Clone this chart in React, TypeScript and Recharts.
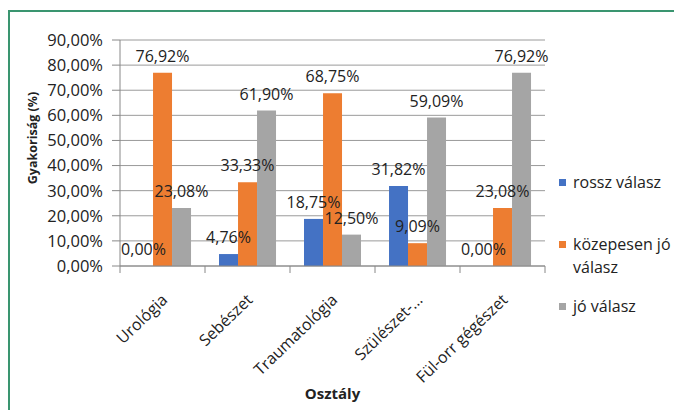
import { BarChart, Bar, XAxis, YAxis, CartesianGrid, Legend, LabelList, Label } from 'recharts';

const categories = ['Urológia', 'Sebészet', 'Traumatológia', 'Szülészet-...', 'Fül-orr gégészet'];
const rossz = [0, 4.76, 18.75, 31.82, 0];
const kozepes = [76.92, 33.33, 68.75, 9.09, 23.08];
const jo = [23.08, 61.9, 12.5, 59.09, 76.92];
const yTicks = [0, 10, 20, 30, 40, 50, 60, 70, 80, 90];

const seriesNames = ['rossz válasz', 'közepesen jó válasz', 'jó válasz'];
const colors = ['#4472c4', '#ed7d31', '#a5a5a5'];

const data = categories.map((name, i) => ({
  name,
  rossz: rossz[i],
  kozepes: kozepes[i],
  jo: jo[i]
}));

const FONT = '"Open Sans", sans-serif';
const fmt = (v: number) => v.toFixed(2).replace('.', ',') + '%';

// category label plus Excel-style tick marks on the category boundaries
const CategoryTick = ({ x, y, payload, index, visibleTicksCount }: any) => {
  const half = payload.offset || 0;
  return <g>
      <line x1={x - half} x2={x - half} y1={y} y2={y + 7} stroke="#888" />
      {index === visibleTicksCount - 1 && <line x1={x + half} x2={x + half} y1={y} y2={y + 7} stroke="#888" />}
      <g transform={`translate(${x + 6},${y + 35})`}>
        <text x={0} y={0} textAnchor="end" transform="rotate(-44)" fontSize={16} fontFamily={FONT} fill="#222">
          {payload.value}
        </text>
      </g>
    </g>;
};

const LegendContent = () => {
  return <div style={{
    fontFamily: FONT,
    fontSize: 16,
    color: '#222'
  }}>
      {seriesNames.map((n, i) => <div key={n} style={{
      height: 62,
      display: 'flex',
      alignItems: 'flex-start'
    }}>
          <span style={{
        width: 7,
        height: 7,
        background: colors[i],
        marginTop: 8,
        marginRight: 7,
        flex: 'none'
      }} />
          <span style={{
        width: 108,
        lineHeight: '23px'
      }}>{n}</span>
        </div>)}
    </div>;
};

const App = () => {
  return <div style={{
    position: 'relative',
    width: 674,
    height: 402,
    overflow: 'hidden',
    background: '#fff'
  }}>
      <div style={{
      position: 'absolute',
      left: 0,
      top: 2,
      width: 720,
      height: 460,
      border: '2px solid #3a9570',
      boxSizing: 'border-box'
    }} />
      <div style={{
      position: 'absolute',
      left: 0,
      top: 0
    }}>
        <BarChart width={674} height={402} data={data} margin={{
        top: 32,
        right: 12,
        bottom: 0,
        left: 0
      }} barCategoryGap="16.5%" barGap={0}>
          <CartesianGrid vertical={false} stroke="#9a9a9a" />
          <XAxis dataKey="name" interval={0} tickLine={false} tickSize={0} tickMargin={0} tick={<CategoryTick />} stroke="#888" height={144}>
            <Label content={({
            viewBox
          }: any) => <text x={viewBox.x + viewBox.width / 2} y={391} textAnchor="middle" fontSize={15} fontWeight="bold" fontFamily={FONT} fill="#222">
                  Osztály
                </text>} />
          </XAxis>
          <YAxis domain={[0, 90]} ticks={yTicks} tickFormatter={fmt} width={112} tickSize={8} tickMargin={9} stroke="#888" tick={{
          fontSize: 16.5,
          fontFamily: FONT,
          fill: '#222'
        }}>
            <Label content={() => <text x={29} y={130} transform="rotate(-90 29 130)" textAnchor="middle" fontSize={12.5} fontWeight="bold" fontFamily={FONT} fill="#222">
                  Gyakoriság (%)
                </text>} />
          </YAxis>
          <Legend layout="vertical" verticalAlign="top" align="right" content={<LegendContent />} wrapperStyle={{
          left: 551,
          top: 163,
          width: 125
        }} />
          <Bar dataKey="rossz" name={seriesNames[0]} fill={colors[0]} minPointSize={0.01} isAnimationActive={false}>
            <LabelList dataKey="rossz" position="top" offset={11} formatter={fmt} fontSize={16} fontFamily={FONT} fill="#222" />
          </Bar>
          <Bar dataKey="kozepes" name={seriesNames[1]} fill={colors[1]} minPointSize={0.01} isAnimationActive={false}>
            <LabelList dataKey="kozepes" position="top" offset={11} formatter={fmt} fontSize={16} fontFamily={FONT} fill="#222" />
          </Bar>
          <Bar dataKey="jo" name={seriesNames[2]} fill={colors[2]} minPointSize={0.01} isAnimationActive={false}>
            <LabelList dataKey="jo" position="top" offset={11} formatter={fmt} fontSize={16} fontFamily={FONT} fill="#222" />
          </Bar>
        </BarChart>
      </div>
    </div>;
};

export default App;
